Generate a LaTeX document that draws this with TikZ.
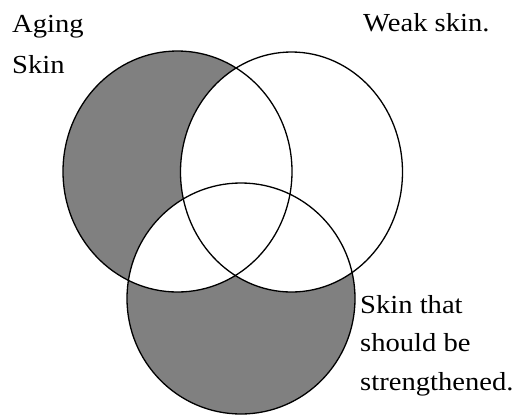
\documentclass[tikz,border=0pt]{standalone}
\usepackage{fontspec}
\setmainfont{Liberation Serif}[FakeStretch=1.1]
\definecolor{venngray}{RGB}{128,128,128}
\begin{document}
\begin{tikzpicture}[x=1pt,y=-1pt,
  outline/.style={draw=black,line width=1.3pt},
  lbl/.style={anchor=base west,inner sep=0pt,font=\fontsize{26}{39}\selectfont,align=left}]
\useasboundingbox (0,0) rectangle (520,416);
\fill[white] (0,0) rectangle (520,416);
% regions
\fill[venngray] (177.5,171.5) ellipse [x radius=114.5, y radius=120.5];
\fill[venngray] (241,298.5) ellipse [x radius=114, y radius=115.5];
\fill[white] (291.5,172) ellipse [x radius=111, y radius=120];
\begin{scope}
  \clip (177.5,171.5) ellipse [x radius=114.5, y radius=120.5];
  \fill[white] (241,298.5) ellipse [x radius=114, y radius=115.5];
\end{scope}
% outlines
\draw[outline] (177.5,171.5) ellipse [x radius=114.5, y radius=120.5];
\draw[outline] (291.5,172) ellipse [x radius=111, y radius=120];
\draw[outline] (241,298.5) ellipse [x radius=114, y radius=115.5];
% labels (base anchor = baseline of last line)
\node[lbl,font=\fontsize{26}{41}\selectfont] (aging) at (12,73) {Aging\\Skin};
\node[lbl] (weak) at (363,31) {Weak skin.};
\node[lbl,font=\fontsize{26}{38.5}\selectfont] (strength) at (360,390) {Skin that\\should be\\strengthened.};
\end{tikzpicture}
\end{document}
